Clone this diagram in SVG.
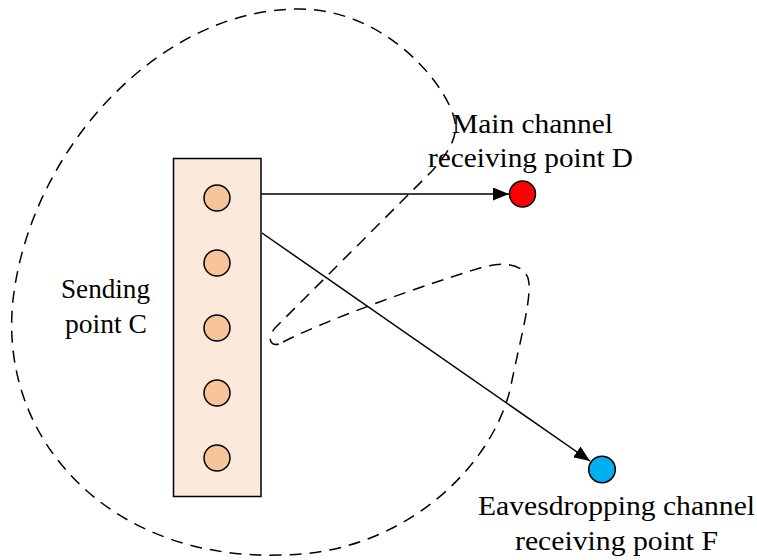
<svg xmlns="http://www.w3.org/2000/svg" width="757" height="560" viewBox="0 0 757 560">
<style>
.lbl{font-family:"Liberation Serif","Times New Roman",serif;font-size:27px;fill:#000;text-anchor:middle}
.ant{fill:#F8C59A;stroke:#000;stroke-width:1.5}
.conn{stroke:#000;stroke-width:1.5;fill:none}
.zone{fill:none;stroke:#000;stroke-width:1.5;stroke-dasharray:12 8}
</style>
<defs>
<marker id="arr" viewBox="0 0 16 13" refX="16" refY="6.5" markerWidth="16" markerHeight="13" markerUnits="userSpaceOnUse" orient="auto">
<path d="M0,0 L16,6.5 L0,13 Z" fill="#000"/>
</marker>
</defs>
<g id="coverage">
<path class="zone" d="M 283,342 C 330,318 430,283 480,268 C 500,262 522,262 528,278 C 533,295 520,340 510,390 C 490,470 400,555 280,555 C 110,560 -2,440 13,300 C 30,150 160,8 300,9 C 390,10 450,90 455,122 C 458,140 445,156 433,170 L 275,328 C 265,340 272,349 283,342 Z"/>
</g>
<g id="sendC">
<rect x="173.5" y="158.5" width="87.5" height="338" fill="#FBE9DB" stroke="#000" stroke-width="1.5"/>
<circle class="ant" cx="217" cy="198" r="13"/>
<circle class="ant" cx="217" cy="263" r="13"/>
<circle class="ant" cx="217" cy="328" r="13"/>
<circle class="ant" cx="217" cy="393" r="13"/>
<circle class="ant" cx="217" cy="458" r="13"/>
<text class="lbl" x="105.5" y="298" textLength="89" lengthAdjust="spacingAndGlyphs">Sending</text>
<text class="lbl" x="106" y="333" textLength="82" lengthAdjust="spacingAndGlyphs">point C</text>
</g>
<g id="pointD">
<circle cx="522.5" cy="194" r="13" fill="#FF0000" stroke="#000" stroke-width="1.5"/>
<text class="lbl" x="532.5" y="133" textLength="161" lengthAdjust="spacingAndGlyphs">Main channel</text>
<text class="lbl" x="530.5" y="166.5" textLength="205" lengthAdjust="spacingAndGlyphs">receiving point D</text>
</g>
<g id="pointF">
<circle cx="602" cy="469.5" r="13.3" fill="#00B0F0" stroke="#000" stroke-width="1.5"/>
<text class="lbl" x="616.5" y="515" textLength="277" lengthAdjust="spacingAndGlyphs">Eavesdropping channel</text>
<text class="lbl" x="616.5" y="550" textLength="203" lengthAdjust="spacingAndGlyphs">receiving point F</text>
</g>
<g id="connectors">
<line class="conn" x1="261" y1="194" x2="509" y2="194" marker-end="url(#arr)"/>
<line class="conn" x1="262" y1="233" x2="590" y2="461" marker-end="url(#arr)"/>
</g>
</svg>
